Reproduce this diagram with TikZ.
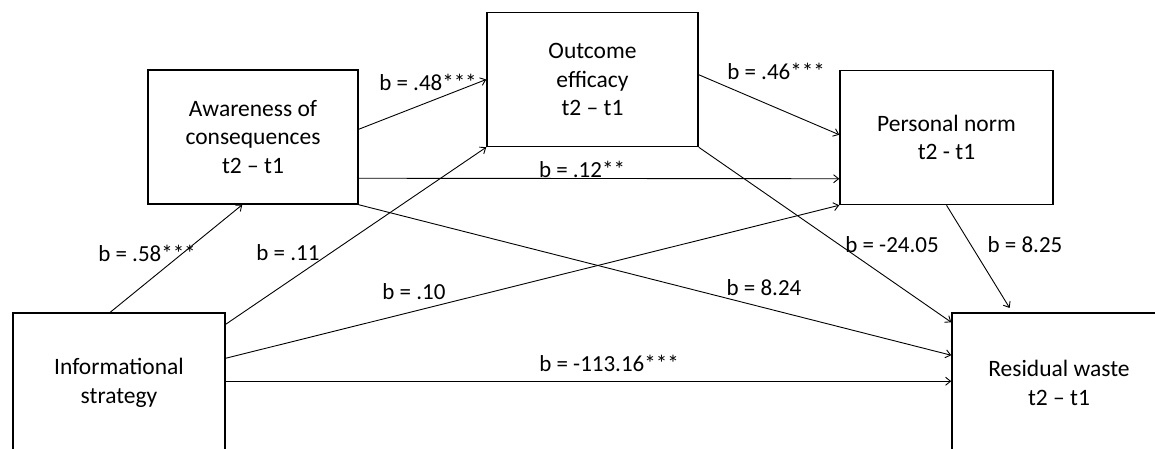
\documentclass[tikz,border=0pt]{standalone}
\usepackage{fontspec}
\setmainfont{Carlito}
\usetikzlibrary{arrows.meta,calc}
\begin{document}
\begin{tikzpicture}[x=1pt,y=-1pt,
  box/.style={draw=black,line width=1.5pt,minimum width=#1,minimum height=134pt,inner sep=0pt,align=center,font=\fontsize{23.5}{28.5}\selectfont},
  box/.default=211pt,
  conn/.style={draw=black,line width=0.9pt,-{Straight Barb[length=5pt,width=8pt]}},
  lab/.style={inner sep=0pt,font=\fontsize{23}{26}\selectfont}]
\useasboundingbox[fill=white] (0,0) rectangle (1155,449);
% boxes
\node[box=210pt] (aw) at (253,137) {Awareness of\\consequences\\t2 -- t1};
\node[box=211pt] (oe) at (592.5,79.5) {Outcome\\efficacy\\t2 -- t1};
\node[box=213pt] (pn) at (946.5,137.5) {Personal norm\\t2 - t1};
\node[box=212pt,minimum height=140pt] (info) at (119,383) {Informational\\strategy};
\node[box=214pt,minimum height=140pt] (rw) at (1059,383) {Residual waste\\t2 -- t1};
% connectors
\draw[conn] ($(info.north west)+(98,0)$) -- ($(aw.south west)+(95,0)$);
\draw[conn] ($(info.north east)+(0,12)$) -- (oe.south west);
\draw[conn] ($(info.north east)+(0,46)$) -- (pn.south west);
\draw[conn] ($(info.north east)+(0,69)$) -- ($(rw.north west)+(0,69)$);
\draw[conn] ($(aw.north east)+(0,60)$) -- (oe.west);
\draw[conn] ($(aw.north east)+(0,109)$) -- ($(pn.north west)+(0,109)$);
\draw[conn] (aw.south east) -- ($(rw.north west)+(0,43)$);
\draw[conn] ($(oe.north east)+(0,63)$) -- ($(pn.north west)+(0,65)$);
\draw[conn] (oe.south east) -- ($(rw.north west)+(0,10)$);
\draw[conn,shorten >=5pt] (pn.south) -- ($(rw.north west)+(61,0)$);
% labels
\node[lab] (l58) at (147,253) {b = .58***};
\node[lab] (l11) at (288,253) {b = .11};
\node[lab] (l10) at (414,292) {b = .10};
\node[lab] (l113) at (609,363) {b = -113.16***};
\node[lab] (l48) at (428,82) {b = .48***};
\node[lab] (l12) at (582,169) {b = .12**};
\node[lab] (l824) at (764,288) {b = 8.24};
\node[lab] (l46) at (776,71) {b = .46***};
\node[lab] (l2405) at (892,245) {b = -24.05};
\node[lab] (l825) at (1025,245) {b = 8.25};
\end{tikzpicture}
\end{document}
